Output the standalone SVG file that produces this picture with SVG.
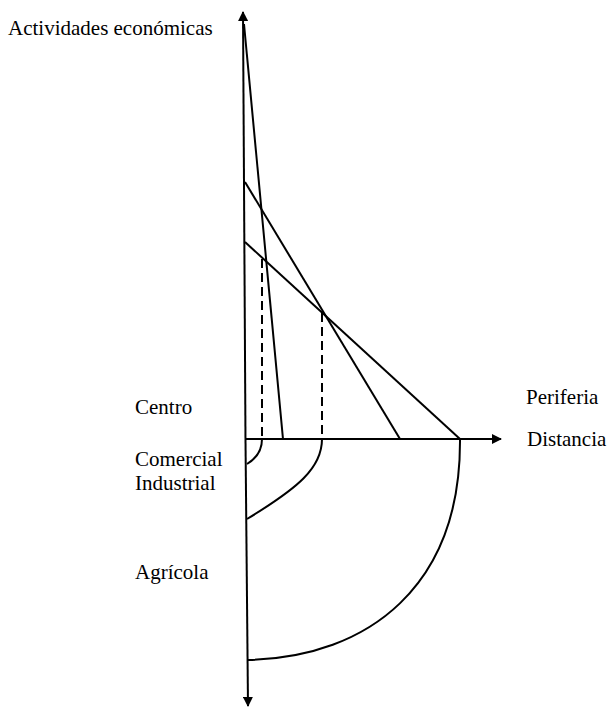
<svg xmlns="http://www.w3.org/2000/svg" width="608" height="709" viewBox="0 0 608 709">
<style>
.ln{stroke:#000;stroke-width:2;fill:none}
.ds{stroke:#000;stroke-width:2;fill:none;stroke-dasharray:9 5}
.tx{font-family:'Liberation Serif','Times New Roman',Times,serif;font-size:21px;fill:#000}
</style>
<defs>
<marker id="ah" viewBox="0 0 10 10" refX="9" refY="5" markerWidth="5" markerHeight="5" orient="auto" markerUnits="strokeWidth">
<path d="M0,0 L10,5 L0,10 z" fill="#000"/>
</marker>
</defs>
<rect width="608" height="709" fill="#fff"/>
<g id="connectors">
<line class="ln" x1="245.5" y1="440" x2="243" y2="12" marker-end="url(#ah)"/>
<line class="ln" x1="245.5" y1="440" x2="248" y2="706" marker-end="url(#ah)"/>
<line class="ln" x1="246" y1="439" x2="501" y2="439" marker-end="url(#ah)"/>
<line class="ln" x1="244" y1="24" x2="283" y2="439"/>
<line class="ln" x1="245" y1="182" x2="400" y2="439"/>
<line class="ln" x1="245" y1="242" x2="460" y2="439"/>
<line class="ds" x1="262" y1="259" x2="262" y2="439"/>
<line class="ds" x1="322" y1="313" x2="322" y2="439"/>
<path class="ln" d="M262,439 Q262,455 247,464"/>
<path class="ln" d="M322,439 C322,468 298,488 247,519"/>
<path class="ln" d="M460,439 C461,585 370,657 248,660"/>
</g>
<g class="tx">
<g id="label-actividades"><text x="8" y="35">Actividades económicas</text></g>
<g id="label-centro"><text x="135" y="414">Centro</text></g>
<g id="label-comercial"><text x="135" y="466">Comercial</text><text x="135" y="490">Industrial</text></g>
<g id="label-agricola"><text x="135" y="579">Agrícola</text></g>
<g id="label-periferia"><text x="526" y="404">Periferia</text></g>
<g id="label-distancia"><text x="527" y="446">Distancia</text></g>
</g>
</svg>
